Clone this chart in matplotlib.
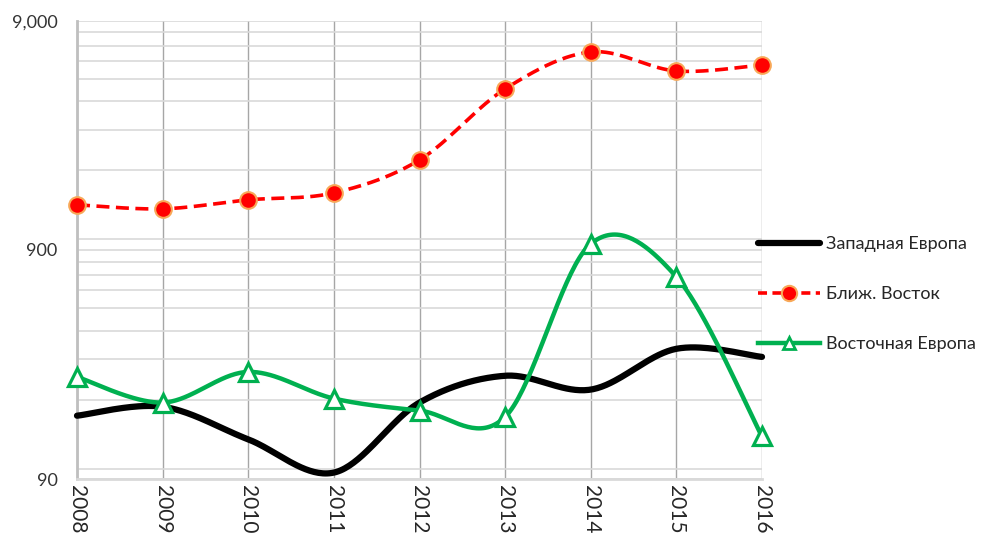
import numpy as np
import matplotlib
matplotlib.use('Agg')
import matplotlib.pyplot as plt
from matplotlib.ticker import FixedLocator, NullFormatter

plt.rcParams['font.family'] = ['Lato', 'DejaVu Sans']

years = ['2008', '2009', '2010', '2011', '2012', '2013', '2014', '2015', '2016']
west_europe = [170, 186, 134, 96, 194, 254, 221, 333, 307]
middle_east = [1415, 1359, 1487, 1596, 2222, 4534, 6573, 5430, 5769]
east_europe = [251, 194, 264, 202, 179, 168, 956, 686, 138]
labels = ['Западная Европа', 'Ближ. Восток', 'Восточная Европа']


def smooth(vals, n=40):
    # catmull-rom style bezier in (index, log value) space, like excel smoothing
    x = np.arange(len(vals), dtype=float)
    y = np.log10(np.asarray(vals, dtype=float))
    px = np.concatenate([[x[0]], x, [x[-1]]])
    py = np.concatenate([[y[0]], y, [y[-1]]])
    xs, ys = [], []
    t = np.linspace(0, 1, n)
    for i in range(len(vals) - 1):
        p0 = np.array([px[i + 1], py[i + 1]])
        p3 = np.array([px[i + 2], py[i + 2]])
        c1 = p0 + (p3 - np.array([px[i], py[i]])) / 6
        c2 = p3 - (np.array([px[i + 3], py[i + 3]]) - p0) / 6
        b = ((1 - t) ** 3)[:, None] * p0 + (3 * (1 - t) ** 2 * t)[:, None] * c1 \
            + (3 * (1 - t) * t ** 2)[:, None] * c2 + (t ** 3)[:, None] * p3
        xs.append(b[:, 0])
        ys.append(b[:, 1])
    return np.concatenate(xs), 10 ** np.concatenate(ys)


fig = plt.figure(figsize=(9.85, 5.35), dpi=100)
ax = fig.add_axes([77 / 985, 1 - 479 / 535, (762 - 77) / 985, (479 - 20.7) / 535])

idx = np.arange(len(years))

# western europe
sx, sy = smooth(west_europe)
ax.plot(sx, sy, color='black', lw=4.5, solid_capstyle='round', zorder=3, clip_on=False)
h1, = ax.plot([], [], color='black', lw=4.5, solid_capstyle='round')

# middle east
sx, sy = smooth(middle_east)
ax.plot(sx, sy, color='#ff0000', lw=2.6, dashes=(3.6, 1.8), zorder=4, clip_on=False)
ax.plot(idx, middle_east, ls='none', marker='o', ms=12, mfc='#ff0000',
        mec='#f8a858', mew=1.5, zorder=5, clip_on=False)
h2, = ax.plot([], [], color='#ff0000', lw=2.6, dashes=(2.5, 1.5), marker='o', ms=11,
              mfc='#ff0000', mec='#f8a858', mew=1.5)

# eastern europe
sx, sy = smooth(east_europe)
ax.plot(sx, sy, color='#00b050', lw=3.2, solid_capstyle='round', zorder=6, clip_on=False)
ax.plot(idx, east_europe, ls='none', marker='^', ms=13, mfc='white',
        mec='#00b050', mew=2.3, zorder=7, clip_on=False)
h3, = ax.plot([], [], color='#00b050', lw=3.2, marker='^', ms=8, mfc='white',
              mec='#00b050', mew=2.0)

ax.set_yscale('log')
ax.set_ylim(90, 9000)
ax.set_xlim(0, len(years) - 1)

ax.yaxis.set_major_locator(FixedLocator([90, 900, 9000]))
ax.set_yticklabels(['90', '900', '9,000'])
minor = [100 * k for k in range(1, 9)] + [1000 * k for k in range(1, 9)]
ax.yaxis.set_minor_locator(FixedLocator(minor))
ax.yaxis.set_minor_formatter(NullFormatter())

ax.set_xticks(idx)
ax.set_xticklabels(years, rotation=270, fontsize=15, color='#262626')

ax.grid(axis='y', which='both', color='#d9d9d9', lw=1.2, zorder=0)
ax.grid(axis='x', which='major', color='#a6a6a6', lw=1.0, zorder=0)
ax.set_axisbelow(True)

ax.tick_params(axis='y', which='both', length=0, pad=14, labelsize=13, labelcolor='#333333')
ax.tick_params(axis='x', length=0, pad=4)

for s in ['top', 'right']:
    ax.spines[s].set_visible(False)
ax.spines['left'].set_color('#bfbfbf')
ax.spines['left'].set_linewidth(2)
ax.spines['bottom'].set_color('#d9d9d9')
ax.spines['bottom'].set_linewidth(2)

fig.legend([h1, h2, h3], labels, loc='center left', bbox_to_anchor=(751 / 985, 1 - 294 / 535),
           borderaxespad=0, frameon=False, fontsize=13, handlelength=3.4, handletextpad=0.35,
           labelspacing=1.88, labelcolor='#262626')

fig.savefig('out.png', dpi=100)
